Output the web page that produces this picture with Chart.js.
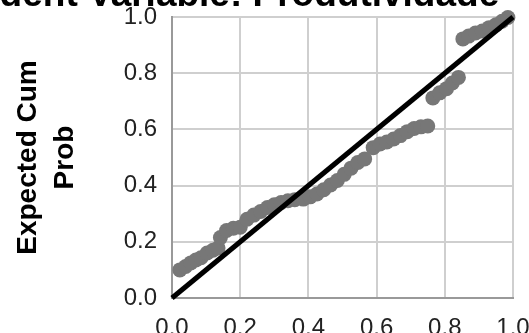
<!DOCTYPE html>
<html>
<head>
<meta charset="utf-8">
<script src="https://cdn.jsdelivr.net/npm/chart.js@4"></script>
<style>
  html, body { margin: 0; padding: 0; background: #fff; }
  #wrap { width: 529px; height: 333px; }
</style>
</head>
<body>
<div id="wrap"><canvas id="pp-plot"></canvas></div>
<script>
const titulo = "Dependent Variable: Produtividade";
const tituloEixoY = ["Expected Cum", "Prob"];
const ticks = [0.0, 0.2, 0.4, 0.6, 0.8, 1.0];

// Observed Cum Prob (x) e Expected Cum Prob (y)
const observado = [0.023, 0.040, 0.055, 0.070, 0.085, 0.103, 0.120, 0.135, 0.142, 0.160,
  0.180, 0.200, 0.220, 0.240, 0.260, 0.280, 0.300, 0.320, 0.340, 0.360,
  0.385, 0.405, 0.425, 0.445, 0.465, 0.485, 0.505, 0.525, 0.545, 0.565,
  0.590, 0.610, 0.630, 0.650, 0.670, 0.690, 0.710, 0.730, 0.750, 0.765,
  0.785, 0.805, 0.822, 0.840, 0.853, 0.870, 0.890, 0.910, 0.930, 0.950,
  0.968, 0.985];
const esperado = [0.100, 0.112, 0.125, 0.135, 0.143, 0.160, 0.170, 0.178, 0.215, 0.240,
  0.248, 0.252, 0.280, 0.295, 0.308, 0.322, 0.332, 0.340, 0.346, 0.350,
  0.352, 0.360, 0.370, 0.385, 0.402, 0.418, 0.440, 0.462, 0.482, 0.495,
  0.535, 0.548, 0.555, 0.566, 0.578, 0.592, 0.603, 0.609, 0.612, 0.712,
  0.730, 0.745, 0.765, 0.785, 0.922, 0.932, 0.943, 0.950, 0.962, 0.972,
  0.985, 0.998];
const diagonal = [0, 1];

const pontos = [];
observado.forEach((x, i) => {
  pontos.push({ x: x, y: esperado[i] });
});

// titulo cortado no topo da imagem
const tituloPlugin = {
  id: "tituloCortado",
  afterDraw(chart) {
    const ctx = chart.ctx;
    ctx.save();
    ctx.font = "bold 37px 'Liberation Sans', Arial, sans-serif";
    ctx.fillStyle = "#000";
    ctx.textBaseline = "alphabetic";
    ctx.textAlign = "left";
    const x0 = 88 - ctx.measureText("Dependent ").width;
    ctx.fillText(titulo, x0, 5.5);
    ctx.restore();
  },
};

const fonteTick = { family: "'Liberation Sans', Arial, sans-serif", size: 24 };

new Chart(document.getElementById("pp-plot"), {
  type: "scatter",
  data: {
    datasets: [
      {
        type: "line",
        data: diagonal.map((v) => ({ x: v, y: v })),
        borderColor: "#000",
        borderWidth: 5,
        pointRadius: 0,
        clip: false,
        order: 0,
      },
      {
        data: pontos,
        backgroundColor: "#777777",
        borderWidth: 0,
        pointRadius: 7.5,
        clip: false,
        order: 1,
      },
    ],
  },
  options: {
    responsive: true,
    maintainAspectRatio: false,
    animation: false,
    layout: { padding: { top: 17, right: 16, left: 0, bottom: 0 } },
    plugins: { legend: { display: false }, tooltip: { enabled: false } },
    scales: {
      x: {
        type: "linear",
        min: 0,
        max: 1,
        afterFit: (s) => { s.height = 35; s.paddingLeft = 0; s.paddingRight = 0; },
        afterBuildTicks: (s) => { s.ticks = ticks.map((v) => ({ value: v })); },
        grid: { color: "#cfcfcf", lineWidth: 2, drawTicks: false },
        border: { color: "#999", width: 2 },
        ticks: {
          padding: 16,
          color: "#222",
          font: fonteTick,
          callback: (v) => v.toFixed(1),
        },
      },
      y: {
        type: "linear",
        min: 0,
        max: 1,
        afterFit: (s) => { s.width = 172; s.paddingTop = 0; s.paddingBottom = 0; },
        afterBuildTicks: (s) => { s.ticks = ticks.map((v) => ({ value: v })); },
        grid: { color: "#cfcfcf", lineWidth: 2, drawTicks: false },
        border: { color: "#999", width: 2 },
        ticks: {
          padding: 15,
          color: "#222",
          font: fonteTick,
          callback: (v) => v.toFixed(1),
        },
        title: {
          display: true,
          text: tituloEixoY,
          color: "#000",
          font: { family: "'Liberation Sans', Arial, sans-serif", size: 28, weight: "bold", lineHeight: 1.32 },
          padding: { top: 10, bottom: 0 },
        },
      },
    },
  },
  plugins: [tituloPlugin],
});
</script>
</body>
</html>
